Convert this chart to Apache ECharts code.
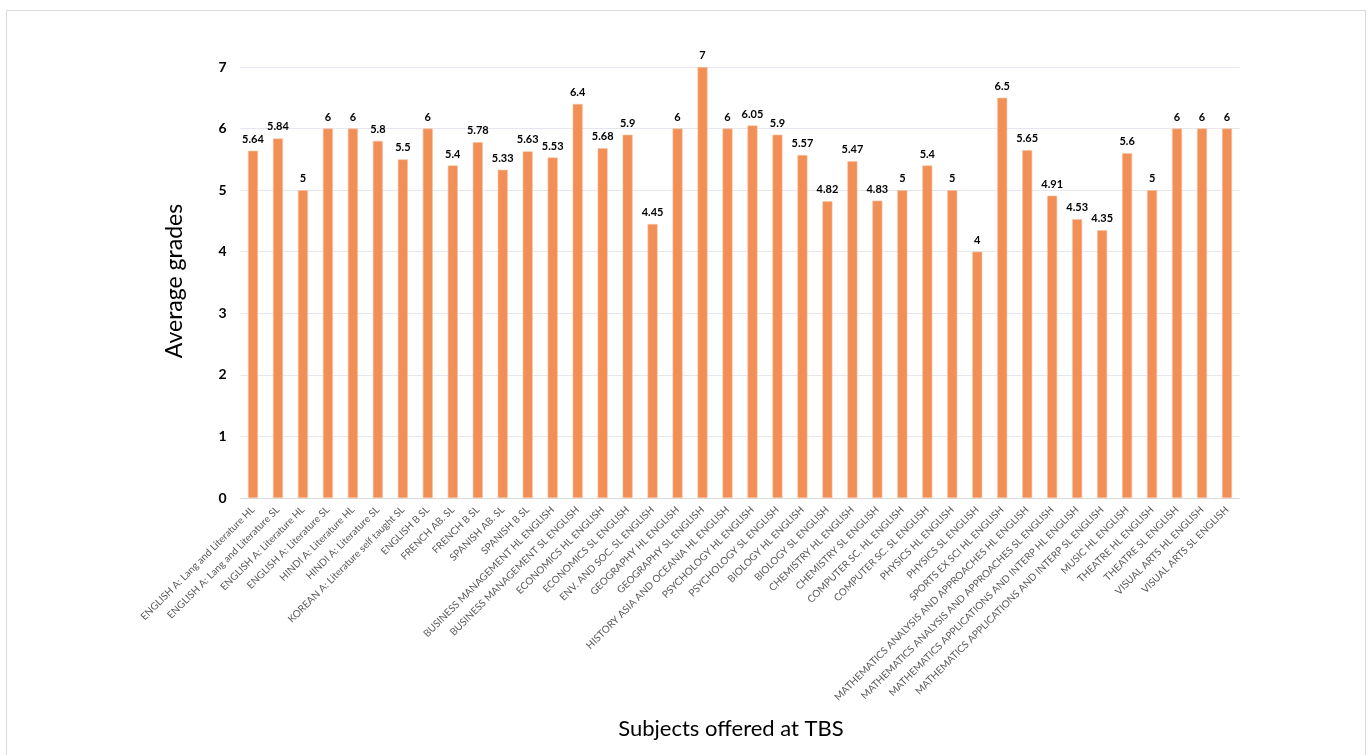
<!DOCTYPE html>
<html>
<head>
<meta charset="utf-8">
<script src="https://cdn.jsdelivr.net/npm/echarts@6/dist/echarts.min.js"></script>
<style>
html,body{margin:0;padding:0;background:#fff;}
#frame{position:absolute;left:6px;top:10px;width:1360px;height:760px;border:1px solid #d9d9d9;box-sizing:border-box;}
#chart{position:absolute;left:0;top:0;width:1369px;height:755px;}
</style>
</head>
<body>
<div id="frame"></div>
<div id="chart"></div>
<script>
const subjects = [
  "ENGLISH A: Lang and Literature HL",
  "ENGLISH A: Lang and Literature SL",
  "ENGLISH A: Literature HL",
  "ENGLISH A: Literature SL",
  "HINDI A: Literature HL",
  "HINDI A: Literature SL",
  "KOREAN A: Literature self taught SL",
  "ENGLISH B SL",
  "FRENCH AB. SL",
  "FRENCH B SL",
  "SPANISH AB. SL",
  "SPANISH B SL",
  "BUSINESS MANAGEMENT HL ENGLISH",
  "BUSINESS MANAGEMENT SL ENGLISH",
  "ECONOMICS HL ENGLISH",
  "ECONOMICS SL ENGLISH",
  "ENV. AND SOC. SL ENGLISH",
  "GEOGRAPHY HL ENGLISH",
  "GEOGRAPHY SL ENGLISH",
  "HISTORY ASIA AND OCEANIA HL ENGLISH",
  "PSYCHOLOGY HL ENGLISH",
  "PSYCHOLOGY SL ENGLISH",
  "BIOLOGY HL ENGLISH",
  "BIOLOGY SL ENGLISH",
  "CHEMISTRY HL ENGLISH",
  "CHEMISTRY SL ENGLISH",
  "COMPUTER SC. HL ENGLISH",
  "COMPUTER SC. SL ENGLISH",
  "PHYSICS HL ENGLISH",
  "PHYSICS SL ENGLISH",
  "SPORTS EX SCI HL ENGLISH",
  "MATHEMATICS ANALYSIS AND APPROACHES HL ENGLISH",
  "MATHEMATICS ANALYSIS AND APPROACHES SL ENGLISH",
  "MATHEMATICS APPLICATIONS AND INTERP HL ENGLISH",
  "MATHEMATICS APPLICATIONS AND INTERP SL ENGLISH",
  "MUSIC HL ENGLISH",
  "THEATRE HL ENGLISH",
  "THEATRE SL ENGLISH",
  "VISUAL ARTS HL ENGLISH",
  "VISUAL ARTS SL ENGLISH"
];
const averageGrades = [
  5.64, 5.84, 5, 6, 6, 5.8, 5.5, 6, 5.4, 5.78,
  5.33, 5.63, 5.53, 6.4, 5.68, 5.9, 4.45, 6, 7, 6,
  6.05, 5.9, 5.57, 4.82, 5.47, 4.83, 5, 5.4, 5, 4,
  6.5, 5.65, 4.91, 4.53, 4.35, 5.6, 5, 6, 6, 6
];
const yAxisTitle = "Average grades";
const xAxisTitle = "Subjects offered at TBS";

const chart = echarts.init(document.getElementById('chart'));
const FONT = 'Lato, "Open Sans", sans-serif';
chart.setOption({
  animation: false,
  textStyle: {fontFamily: FONT},
  grid: {left: 240.5, right: 129.5, top: 67, bottom: 257, containLabel: false},
  xAxis: {
    type: 'category',
    data: subjects,
    axisTick: {show: false},
    axisLine: {lineStyle: {color: '#d9d9d9'}},
    axisLabel: {
      rotate: 45, interval: 0, fontSize: 10, color: '#595959', margin: 10, fontFamily: FONT
    }
  },
  yAxis: {
    type: 'value', min: 0, max: 7, interval: 1,
    axisLine: {show: false}, axisTick: {show: false},
    splitLine: {lineStyle: {color: '#e6e6ee'}},
    axisLabel: {fontSize: 14, fontWeight: 'bold', color: '#000', margin: 14, fontFamily: FONT}
  },
  series: [{
    type: 'bar',
    data: averageGrades,
    barWidth: 10,
    itemStyle: {color: '#F18F56', borderColor: '#F8C2A0', borderWidth: 0.6},
    label: {show: true, position: 'top', distance: 6, fontSize: 11, fontWeight: 'bold', color: '#000', fontFamily: FONT}
  }],
  graphic: [
    {type: 'text', x: 175, y: 281, rotation: Math.PI/2,
     style: {text: yAxisTitle, font: '23px ' + FONT, fill: '#000', textAlign: 'center', textVerticalAlign: 'middle'}},
    {type: 'text', x: 731, y: 729,
     style: {text: xAxisTitle, font: '22px ' + FONT, fill: '#000', textAlign: 'center', textVerticalAlign: 'middle'}}
  ]
});
</script>
</body>
</html>
